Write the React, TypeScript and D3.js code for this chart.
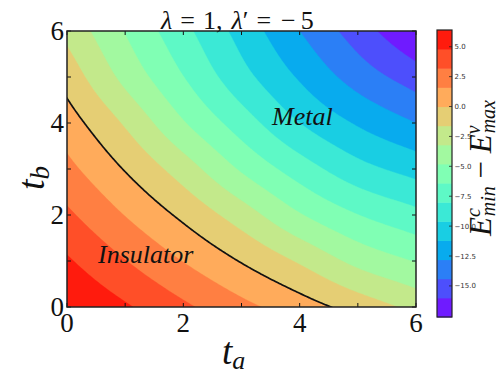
import React from "react";
import * as d3 from "d3";

// ---- data ----
const taValues = [0, 1, 2, 3, 4, 5, 6];
const tbValues = [0, 1, 2, 3, 4, 5, 6];
// E^c_min - E^v_max sampled on the (ta, tb) grid, one array per tb row
const gapTb0 = [6.4, 5.0, 3.5, 2.05, 0.75, -0.65, -2.05];
const gapTb1 = [5.0, 3.25, 1.55, -0.1, -1.8, -3.66, -4.9];
const gapTb2 = [3.5, 1.55, -0.35, -2.4, -4.67, -6.37, -7.55];
const gapTb3 = [2.05, -0.1, -2.4, -5.0, -7.19, -9.03, -10.2];
const gapTb4 = [0.75, -1.8, -4.67, -7.19, -9.59, -11.38, -12.8];
const gapTb5 = [-0.65, -3.66, -6.37, -9.03, -11.38, -13.5, -15.2];
const gapTb6 = [-2.05, -4.9, -7.55, -10.2, -12.8, -15.2, -17.6];
const levels = [-17.6, -16, -14.4, -12.8, -11.2, -9.6, -8, -6.4, -4.8, -3.2, -1.6, 0, 1.6, 3.2, 4.8, 6.4];
const boundaryLevel = [0];
const axisTicks = [0, 1, 2, 3, 4, 5, 6];
const axisTickLabels = [0, 2, 4, 6];
const colorbarTicks = [5, 2.5, 0, -2.5, -5, -7.5, -10, -12.5, -15];

// matplotlib "rainbow" colormap
function mplRainbow(t: number): string {
  const c = (v: number) => Math.max(0, Math.min(1, v));
  const r = c(Math.abs(2 * t - 0.5));
  const g = c(Math.sin(Math.PI * t));
  const b = c(Math.cos((Math.PI / 2) * t));
  return d3.rgb(r * 255, g * 255, b * 255).formatHex();
}

const X0 = 67, X1 = 416, Y0 = 31, Y1 = 307;
const serif = { fontFamily: "'Liberation Serif', 'DejaVu Serif', serif" };
const sans = { fontFamily: "'DejaVu Sans', sans-serif" };

export default function App() {
  const grid = [gapTb0, gapTb1, gapTb2, gapTb3, gapTb4, gapTb5, gapTb6];
  const nx = taValues.length, ny = tbValues.length;
  const x = d3.scaleLinear().domain([taValues[0], taValues[nx - 1]]).range([X0, X1]);
  const y = d3.scaleLinear().domain([tbValues[0], tbValues[ny - 1]]).range([Y1, Y0]);

  const gv = (j: number, i: number): number => {
    if (i < 0) return 2 * gv(j, 0) - gv(j, 1);
    if (i > nx - 1) return 2 * gv(j, nx - 1) - gv(j, nx - 2);
    if (j < 0) return 2 * gv(0, i) - gv(1, i);
    if (j > ny - 1) return 2 * gv(ny - 1, i) - gv(ny - 2, i);
    return grid[j][i];
  };
  const cr = (p0: number, p1: number, p2: number, p3: number, t: number) =>
    0.5 * (2 * p1 + (-p0 + p2) * t + (2 * p0 - 5 * p1 + 4 * p2 - p3) * t * t + (-p0 + 3 * p1 - 3 * p2 + p3) * t * t * t);
  const sample = (ta: number, tb: number) => {
    const i = Math.min(Math.floor(ta), nx - 2), fx = ta - i;
    const j = Math.min(Math.floor(tb), ny - 2), fy = tb - j;
    const rows = [-1, 0, 1, 2].map((dj) =>
      cr(gv(j + dj, i - 1), gv(j + dj, i), gv(j + dj, i + 1), gv(j + dj, i + 2), fx)
    );
    return cr(rows[0], rows[1], rows[2], rows[3], fy);
  };

  const N = 151;
  const step = (taValues[nx - 1] - taValues[0]) / (N - 1);
  const vals: number[] = new Array(N * N);
  for (let iy = 0; iy < N; iy++)
    for (let ix = 0; ix < N; ix++) vals[iy * N + ix] = sample(ix * step, iy * step);

  const bands = d3.contours().size([N, N]).thresholds(levels.slice(0, -1))(vals);
  const zero = d3.contours().size([N, N]).thresholds(boundaryLevel)(vals);
  const proj = d3.geoTransform({
    point(px: number, py: number) {
      (this as any).stream.point(x((px - 0.5) * step), y((py - 0.5) * step));
    },
  });
  const path = d3.geoPath(proj as any);
  const nb = levels.length - 1;
  const bandColor = (k: number) => mplRainbow((k + 0.5) / nb);

  const cb = d3.scaleLinear().domain([levels[0], levels[nb]]).range([317, 30]);
  const CBX = 437, CBW = 15;

  return (
    <svg width={500} height={375} style={{ position: "absolute", left: 0, top: 0, background: "#fff" }}>
      <defs>
        <clipPath id="plotclip">
          <rect x={X0} y={Y0} width={X1 - X0} height={Y1 - Y0} />
        </clipPath>
      </defs>
      <g clipPath="url(#plotclip)">
        <rect x={X0} y={Y0} width={X1 - X0} height={Y1 - Y0} fill={bandColor(0)} />
        {bands.map((b, k) => (
          <path key={k} d={path(b as any) || ""} fill={bandColor(k)} stroke={bandColor(k)} strokeWidth={0.4} />
        ))}
        {zero.map((b, k) => (
          <path key={k} d={path(b as any) || ""} fill="none" stroke="#111" strokeWidth={1.7} />
        ))}
      </g>
      {/* ticks */}
      {axisTicks.map((t) => (
        <g key={t} stroke="#111" strokeWidth={1}>
          <line x1={x(t)} x2={x(t)} y1={Y1} y2={Y1 - 4} />
          <line x1={x(t)} x2={x(t)} y1={Y0} y2={Y0 + 4} />
          <line x1={X0} x2={X0 + 4} y1={y(t)} y2={y(t)} />
          <line x1={X1} x2={X1 - 4} y1={y(t)} y2={y(t)} />
        </g>
      ))}
      <rect x={X0} y={Y0} width={X1 - X0} height={Y1 - Y0} fill="none" stroke="#222" strokeWidth={1.5} />
      {/* tick labels */}
      {axisTickLabels.map((t) => (
        <text key={"x" + t} x={x(t)} y={332} textAnchor="middle" style={serif} fontSize={27} fill="#111">
          {t}
        </text>
      ))}
      {axisTickLabels.map((t) => (
        <text key={"y" + t} x={64} y={y(t) + 9} textAnchor="end" style={serif} fontSize={27} fill="#111">
          {t}
        </text>
      ))}
      {/* axis labels */}
      <text x={222} y={364} style={serif} fontSize={37} fontStyle="italic" fill="#111">
        t<tspan fontSize={26} dy={5}>a</tspan>
      </text>
      <text transform="translate(44,190) rotate(-90)" style={serif} fontSize={38} fontStyle="italic" fill="#111">
        t<tspan fontSize={27} dy={5}>b</tspan>
      </text>
      {/* title */}
      <text x={161} y={29} style={serif} fontSize={26} fill="#111">
        <tspan fontStyle="italic">λ</tspan>
        <tspan dx={8}>=</tspan>
        <tspan dx={8}>1,</tspan>
        <tspan dx={9} fontStyle="italic">λ</tspan>
        <tspan>′</tspan>
        <tspan dx={8}>=</tspan>
        <tspan dx={10}>−</tspan>
        <tspan dx={5}>5</tspan>
      </text>
      {/* region labels */}
      <text x={98} y={263} style={serif} fontSize={26} fontStyle="italic" fill="#111">Insulator</text>
      <text x={272} y={125} style={serif} fontSize={26} fontStyle="italic" fill="#111">Metal</text>
      {/* colorbar */}
      {levels.slice(0, -1).map((lv, k) => (
        <rect key={k} x={CBX} y={cb(levels[k + 1])} width={CBW} height={cb(lv) - cb(levels[k + 1]) + 0.5} fill={bandColor(k)} />
      ))}
      <rect x={CBX} y={cb(levels[nb])} width={CBW} height={cb(levels[0]) - cb(levels[nb])} fill="none" stroke="#222" strokeWidth={1.2} />
      {colorbarTicks.map((t) => (
        <g key={t}>
          <line x1={CBX + CBW - 3} x2={CBX + CBW} y1={cb(t)} y2={cb(t)} stroke="#222" strokeWidth={0.8} />
          <text x={CBX + CBW + 2.5} y={cb(t) + 2.5} style={sans} fontSize={7} fill="#333">
            {t < 0 ? "−" + Math.abs(t).toFixed(1) : t.toFixed(1)}
          </text>
        </g>
      ))}
      <text transform="translate(491,236) rotate(-90)" style={serif} fontSize={31} fontStyle="italic" fill="#111">
        E<tspan fontSize={20} dy={-11}>c</tspan>
        <tspan fontSize={20} dx={-8} dy={15}>min</tspan>
        <tspan fontSize={31} fontStyle="normal" dy={-4}> − </tspan>
        <tspan>E</tspan>
        <tspan fontSize={20} dy={-11}>v</tspan>
        <tspan fontSize={20} dx={-8} dy={15}>max</tspan>
      </text>
    </svg>
  );
}
